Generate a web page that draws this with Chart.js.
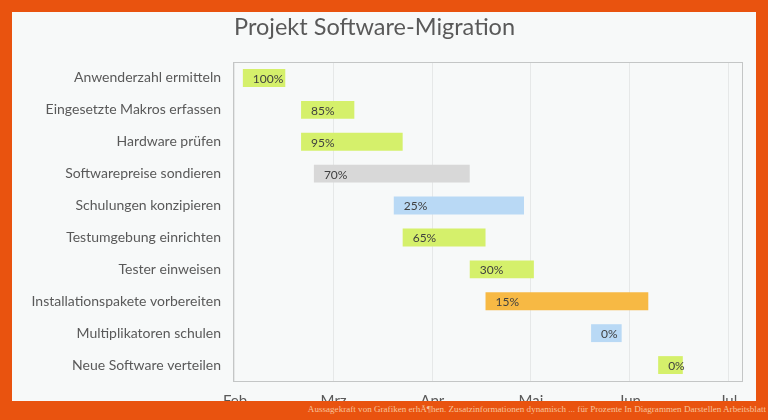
<!DOCTYPE html>
<html>
<head>
<meta charset="utf-8">
<script src="https://cdn.jsdelivr.net/npm/chart.js@4.4.1/dist/chart.umd.min.js"></script>
<style>
  html, body { margin: 0; padding: 0; }
  body { width: 768px; height: 420px; background: #e9530f; position: relative; overflow: hidden; }
  #frame { position: absolute; left: 12px; top: 12px; width: 744px; height: 389px; background: #f7f9f9; overflow: hidden; }
  #caption { position: absolute; right: 2px; top: 404px; font-family: "Liberation Serif", serif; font-size: 9.1px; color: #f7c39c; white-space: nowrap; }
</style>
</head>
<body>
<div id="frame"><canvas id="gantt" width="744" height="420"></canvas></div>
<div id="caption">Aussagekraft von Grafiken erhÃ¶hen. Zusatzinformationen dynamisch ... für Prozente In Diagrammen Darstellen Arbeitsblatt</div>
<script>
// tasks, top to bottom
const tasks = [
    'Anwenderzahl ermitteln',
    'Eingesetzte Makros erfassen',
    'Hardware prüfen',
    'Softwarepreise sondieren',
    'Schulungen konzipieren',
    'Testumgebung einrichten',
    'Tester einweisen',
    'Installationspakete vorbereiten',
    'Multiplikatoren schulen',
    'Neue Software verteilen'
];
// start / end in months after 1 Feb
const startMonths = [0.08, 0.67, 0.67, 0.80, 1.61, 1.70, 2.38, 2.54, 3.61, 4.29];
const endMonths   = [0.51, 1.21, 1.70, 2.38, 2.93, 2.54, 3.03, 4.19, 3.92, 4.54];
const progress = ['100%', '85%', '95%', '70%', '25%', '65%', '30%', '15%', '0%', '0%'];
const barColors = ['#d5f06b', '#d5f06b', '#d5f06b', '#d8d8d8', '#b9d9f5', '#d5f06b', '#d5f06b', '#f7b944', '#b9d9f5', '#d5f06b'];
const monthLabels = ['Feb', 'Mrz', 'Apr', 'Mai', 'Jun', 'Jul'];

const fontFamily = 'Lato, "Open Sans", sans-serif';

// title, plot frame and percent labels
const ganttExtras = {
    id: 'ganttExtras',
    beforeDatasetsDraw(chart) {
        const a = chart.chartArea;
        const ctx = chart.ctx;
        ctx.save();
        ctx.strokeStyle = '#c4c6c6';
        ctx.lineWidth = 1;
        ctx.strokeRect(Math.round(a.left) + 0.5, Math.round(a.top) + 0.5, Math.round(a.right - a.left), Math.round(a.bottom - a.top));
        ctx.restore();
    },
    afterDatasetsDraw(chart) {
        const ctx = chart.ctx;
        const a = chart.chartArea;
        ctx.save();
        ctx.fillStyle = '#595959';
        ctx.font = '23.5px ' + fontFamily;
        ctx.textBaseline = 'middle';
        ctx.textAlign = 'left';
        ctx.fillText('Projekt Software-Migration', a.left + 1, 15);

        ctx.font = '12px ' + fontFamily;
        ctx.fillStyle = '#404040';
        chart.getDatasetMeta(0).data.forEach((bar, i) => {
            const left = Math.min(bar.x, bar.base);
            ctx.fillText(progress[i], left + 10, bar.y + 1);
        });
        ctx.restore();
    }
};

const ctx = document.getElementById('gantt').getContext('2d');
new Chart(ctx, {
    type: 'bar',
    data: {
        labels: tasks,
        datasets: [{
            data: tasks.map((t, i) => [startMonths[i], endMonths[i]]),
            backgroundColor: barColors,
            borderWidth: 0,
            barPercentage: 0.56,
            categoryPercentage: 1.0
        }]
    },
    options: {
        indexAxis: 'y',
        responsive: false,
        animation: false,
        layout: { padding: { top: 50, right: 14, left: 0, bottom: 0 } },
        plugins: {
            legend: { display: false },
            tooltip: { enabled: false }
        },
        scales: {
            x: {
                type: 'linear',
                min: -0.02,
                max: 5.14,
                afterBuildTicks: (scale) => {
                    scale.ticks = monthLabels.map((m, i) => ({ value: i }));
                },
                afterFit: (scale) => { scale.height = 51; },
                ticks: {
                    callback: (v) => monthLabels[v],
                    color: '#595959',
                    font: { family: fontFamily, size: 15 },
                    padding: 11,
                    maxRotation: 0
                },
                grid: { color: '#e6e8e8', drawTicks: false },
                border: { display: false }
            },
            y: {
                afterFit: (scale) => { scale.width = 221; },
                ticks: {
                    color: '#595959',
                    font: { family: fontFamily, size: 14 },
                    padding: 12
                },
                grid: { display: false, drawTicks: false },
                border: { display: false }
            }
        }
    },
    plugins: [ganttExtras]
});
</script>
</body>
</html>
